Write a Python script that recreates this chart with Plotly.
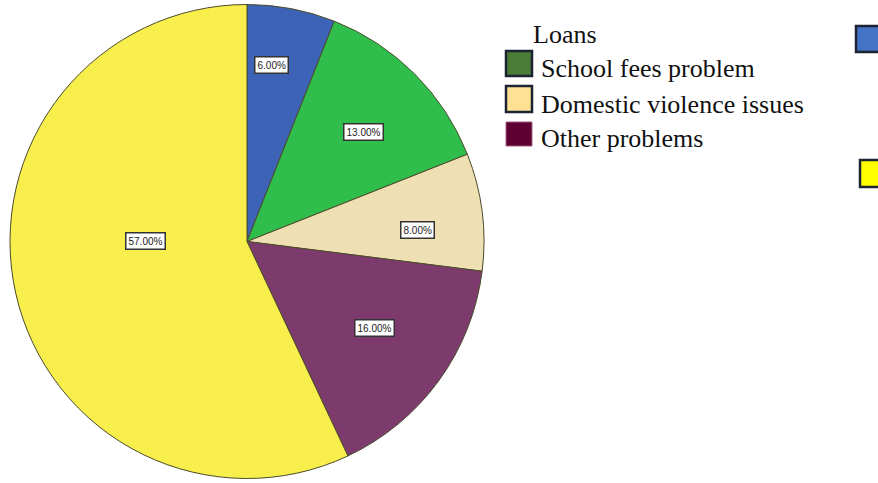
import math
import plotly.graph_objects as go

# Survey shares per category (percent)
categories = ["Loans", "School fees problem", "Domestic violence issues", "Other problems", " "]
shares = [6, 13, 8, 16, 57]

# Slice fills and legend swatch fills
slice_colors = ["#3d63b6", "#2fbd4c", "#eee0b2", "#7c3b6c", "#f9ef4c"]
swatch_colors = ["#4472c4", "#4a7c35", "#fde294", "#5e0032", "#ffff00"]

W, H = 878, 483
pie_left, pie_right = 10, 484

fig = go.Figure(
    go.Pie(
        labels=categories,
        values=shares,
        sort=False,
        direction="clockwise",
        rotation=0,
        marker=dict(colors=slice_colors, line=dict(color="#4b4b2c", width=1)),
        textinfo="none",
        hoverinfo="label+percent",
        showlegend=False,
        domain=dict(x=[pie_left / W, pie_right / W], y=[0, 1]),
    )
)

# Boxed percentage labels placed inside each slice
cx = (pie_left + pie_right) / 2
cy = H / 2
R = min(pie_right - pie_left, H) / 2
label_radius = [0.75, 0.675, 0.72, 0.65, 0.43]
label_turn = [-3, 2, 3.5, -2, 13]
total = sum(shares)
cum = 0
annotations = []
for i, v in enumerate(shares):
    mid = (cum + v / 2) / total * 360 + label_turn[i]
    cum += v
    r = R * label_radius[i]
    px = cx + r * math.sin(math.radians(mid))
    py = cy - r * math.cos(math.radians(mid))
    annotations.append(dict(
        x=px / W, y=1 - py / H, xref="paper", yref="paper",
        text=f"{v / total * 100:.2f}%", showarrow=False,
        font=dict(family="Liberation Sans", size=10, color="#222222"),
        bgcolor="#ffffff", bordercolor="#333333", borderwidth=1.5, borderpad=2,
        xanchor="center", yanchor="middle",
    ))

# Legend: swatch rectangles and entry texts (pixel layout)
swatch_boxes = [
    (856, 26, 884, 52),
    (506, 51, 532, 76),
    (506, 86, 532, 112),
    (506, 122, 532, 146),
    (860, 160, 888, 187),
]
text_anchor = [(532, 42), (540, 77), (540, 113), (540, 146), None]

shapes = []
for i, (x0, y0, x1, y1) in enumerate(swatch_boxes):
    border = "#1c2333" if i != 3 else "#a0607f"
    shapes.append(dict(
        type="rect", xref="paper", yref="paper",
        x0=x0 / W, x1=x1 / W, y0=1 - y1 / H, y1=1 - y0 / H,
        fillcolor=swatch_colors[i],
        line=dict(color=border, width=2.5 if i != 3 else 1),
    ))
    if text_anchor[i] is not None and categories[i].strip():
        tx, ty = text_anchor[i]
        annotations.append(dict(
            x=tx / W, y=1 - (ty - 8) / H, xref="paper", yref="paper",
            text=categories[i], showarrow=False,
            font=dict(family="'Liberation Serif', 'DejaVu Serif', serif", size=26, color="#111111"),
            xanchor="left", yanchor="middle", borderpad=0,
        ))

fig.update_layout(
    width=W, height=H,
    margin=dict(l=0, r=0, t=0, b=0),
    paper_bgcolor="#ffffff", plot_bgcolor="#ffffff",
    annotations=annotations, shapes=shapes,
    showlegend=False,
)

fig.write_html("out.html")
